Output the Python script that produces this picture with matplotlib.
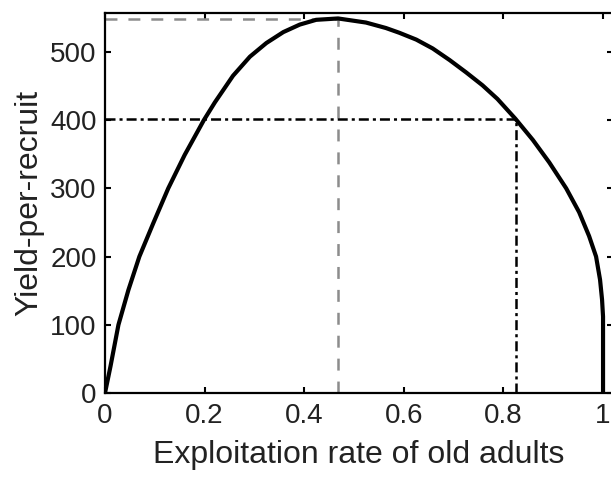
import matplotlib
matplotlib.use("Agg")
import matplotlib.pyplot as plt

# Curve
exploitation = [0.0, 0.011, 0.027, 0.047, 0.069, 0.097, 0.127, 0.160, 0.1985, 0.2206,
                0.257, 0.291, 0.324, 0.358, 0.391, 0.424, 0.468, 0.524, 0.564, 0.591,
                0.625, 0.658, 0.692, 0.725, 0.758, 0.788, 0.824, 0.859, 0.892, 0.926,
                0.952, 0.972, 0.986, 0.994, 0.998, 1.0, 1.0]
yield_per_recruit = [0, 39, 100, 151, 200, 249, 300, 349, 400, 426,
                     465, 493, 513, 529, 540, 547, 549, 543, 535, 528,
                     518, 505, 488, 470, 451, 431, 402, 371, 338, 300,
                     265, 230, 200, 166, 137, 112, 0]

# Reference points
msy_x, msy_y = 0.468, 548
ref_x, ref_y = 0.826, 401

x_ticks = [0, 0.2, 0.4, 0.6, 0.8, 1]
x_tick_labels = ["0", "0.2", "0.4", "0.6", "0.8", "1"]
y_ticks = [0, 100, 200, 300, 400, 500]
y_tick_labels = ["0", "100", "200", "300", "400", "500"]

plt.rcParams['font.family'] = ['Liberation Sans', 'DejaVu Sans']
plt.rcParams['lines.scale_dashes'] = False

fig = plt.figure(figsize=(6.11, 4.78), dpi=100)
ax = fig.add_axes([105/611, 85/478, (613-105)/611, (393-13)/478])

ax.plot([0, msy_x], [msy_y, msy_y], color='#8c8c8c', lw=1.8, ls=(0, (8.6, 7.9)))
ax.plot([msy_x, msy_x], [0, msy_y], color='#8c8c8c', lw=1.8, ls=(0, (8.6, 7.9)))
ax.plot([0, ref_x], [ref_y, ref_y], color='black', lw=1.8, ls=(0, (7.2, 2.9, 2.2, 2.9)))
ax.plot([ref_x, ref_x], [0, ref_y], color='black', lw=1.8, ls=(0, (7.2, 2.9, 2.2, 2.9)))
ax.plot(exploitation, yield_per_recruit, color='black', lw=3,
        solid_joinstyle='round', solid_capstyle='butt')

ax.set_xlim(0, 1.02)
ax.set_ylim(0, 557)
ax.set_xticks(x_ticks)
ax.set_xticklabels(x_tick_labels)
ax.set_yticks(y_ticks)
ax.set_yticklabels(y_tick_labels)
ax.tick_params(direction='in', length=4, width=1.5, top=True, right=True,
               labelsize=20, colors='black', labelcolor='#222222')
ax.tick_params(axis='y', pad=6)
ax.tick_params(axis='x', pad=7)
for s in ax.spines.values():
    s.set_linewidth(1.6)
ax.set_xlabel("Exploitation rate of old adults", fontsize=23, color='#222222', labelpad=8)
ax.set_ylabel("Yield-per-recruit", fontsize=23, color='#222222', labelpad=4)

fig.savefig("out.png", dpi=100)
